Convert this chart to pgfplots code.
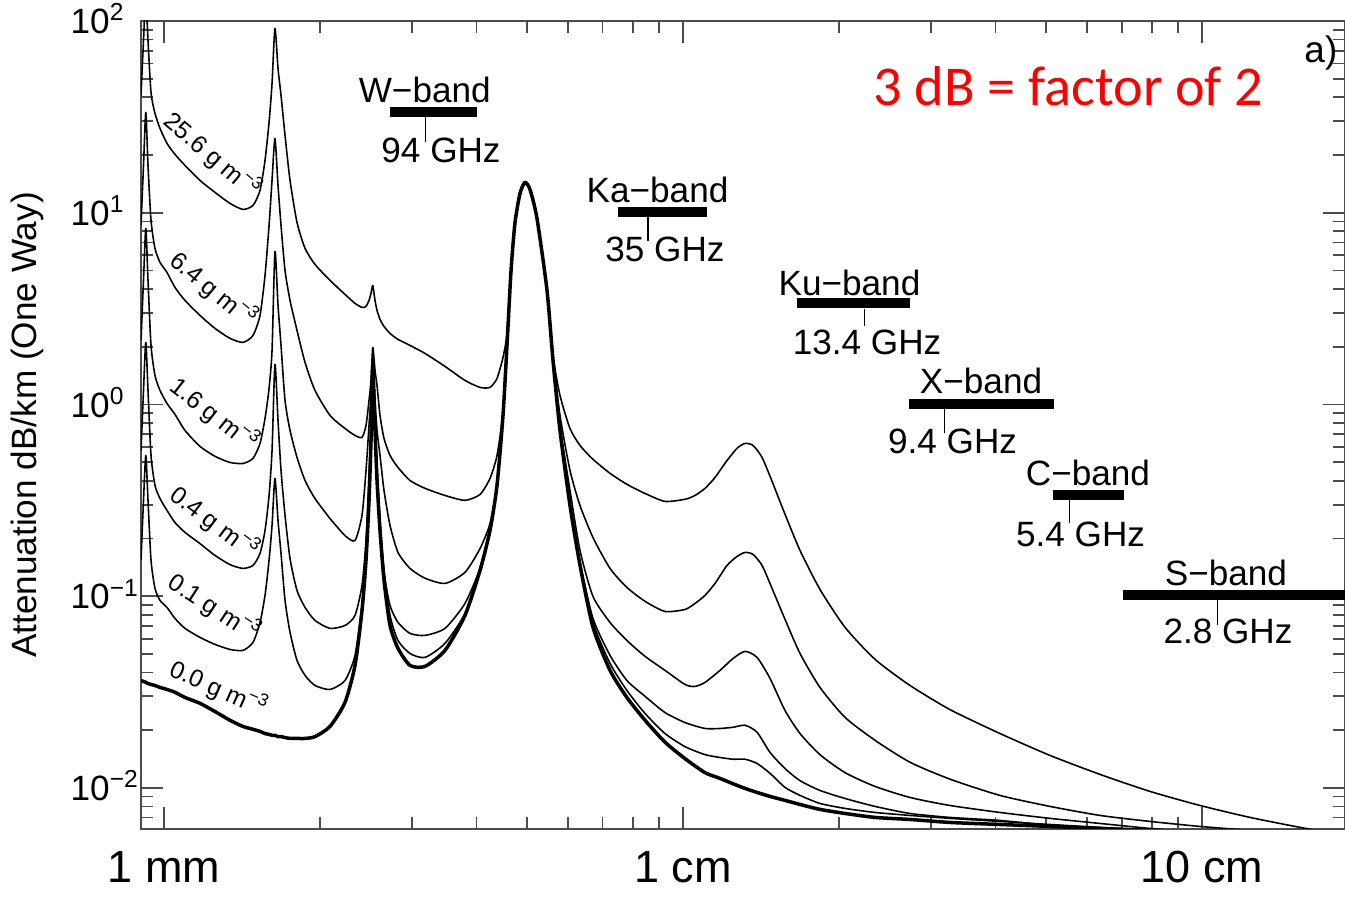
\documentclass[border=0pt]{standalone}
\usepackage{fontspec}
\setmainfont{Liberation Sans}
\newfontfamily\notefont{Carlito}
\usepackage{pgfplots}
\usepackage{pgfplotstable}
\pgfplotsset{compat=1.18}

% wavelength (mm) vs one-way attenuation (dB/km)
\pgfplotstableread{
lam att
0.903 0.0363
0.9131 0.0359
0.9224 0.0355
0.9315 0.0350
0.944 0.0346
0.9608 0.0342
0.9824 0.0334
1.0134 0.0326
1.050 0.0315
1.0975 0.0296
1.1731 0.0276
1.2539 0.0250
1.3403 0.0225
1.4199 0.0209
1.4843 0.0202
1.5311 0.0197
1.5655 0.0192
1.5937 0.0190
1.615 0.0188
1.636 0.0188
1.6585 0.0185
1.6807 0.0185
1.7108 0.0183
1.7492 0.0181
1.8043 0.0181
1.8698 0.0181
1.954 0.0185
2.0887 0.0209
2.2322 0.0279
2.3335 0.0435
2.4072 0.0842
2.4503 0.154
2.4832 0.316
2.5053 0.649
2.5246 1.578
2.5502 0.732
2.5729 0.401
2.6074 0.220
2.6541 0.121
2.7256 0.0703
2.824 0.0534
2.9785 0.0435
3.1834 0.0430
3.4787 0.0521
3.8015 0.0793
4.0628 0.136
4.2472 0.220
4.3813 0.378
4.4995 0.876
4.58 2.03
4.663 5.00
4.746 8.90
4.852 12.6
4.961 14.4
5.072 13.2
5.232 9.34
5.47 3.93
5.617 1.70
5.794 0.732
6.057 0.297
6.332 0.145
6.708 0.0687
7.234 0.0410
7.798 0.0296
8.452 0.0225
9.232 0.0173
10.089 0.0142
11.026 0.0120
11.785 0.0112
12.486 0.0105
13.168 0.00993
13.888 0.00946
14.713 0.00902
15.725 0.00860
16.807 0.00819
18.361 0.00772
20.522 0.00735
23.44 0.00701
27.373 0.00684
32.69 0.00660
40.808 0.00644
50.945 0.00629
63.595 0.00614
79.398 0.00600
99.12 0.00585
123.73 0.00571
154.5 0.00565
188.6 0.00558
}\wvzero

\pgfplotstableread{
lam att
0.903 0.154
0.9131 0.316
0.9224 0.542
0.9315 0.316
0.944 0.154
0.9608 0.1097
0.9824 0.0950
1.0134 0.0873
1.050 0.0765
1.0975 0.0679
1.1731 0.0609
1.2539 0.0560
1.3403 0.0527
1.4199 0.0521
1.4843 0.0574
1.5311 0.0729
1.5655 0.1009
1.5937 0.154
1.615 0.234
1.636 0.411
1.6585 0.248
1.6807 0.167
1.7108 0.0950
1.7492 0.0647
1.8043 0.0462
1.8698 0.0386
1.954 0.0342
2.0887 0.0326
2.2322 0.0363
2.3335 0.0491
2.4072 0.0894
2.4503 0.163
2.4832 0.356
2.5053 0.732
2.5246 1.617
2.5502 0.825
2.5729 0.481
2.6074 0.248
2.6541 0.136
2.7256 0.0793
2.824 0.0587
2.9785 0.0502
3.1834 0.0479
3.4787 0.0567
3.8015 0.0812
4.0628 0.1395
4.2472 0.2255
4.3813 0.387
4.4995 0.898
4.58 2.08
4.663 5.12
4.746 9.01
4.852 12.76
4.961 14.4
5.072 13.2
5.232 9.34
5.47 3.93
5.617 1.70
5.794 0.732
6.057 0.301
6.332 0.148
6.708 0.0729
7.234 0.0446
7.798 0.0322
8.452 0.0244
9.232 0.0192
10.089 0.0164
11.026 0.0149
11.785 0.0144
12.486 0.0141
13.168 0.0141
13.888 0.0134
14.713 0.0119
15.725 0.01005
16.807 0.00913
18.361 0.00829
20.522 0.00781
23.44 0.00744
27.373 0.00718
32.69 0.00693
40.808 0.00668
50.945 0.00644
63.595 0.00622
79.398 0.00600
99.12 0.00585
123.73 0.00571
}\wvA

\pgfplotstableread{
lam att
0.903 0.575
0.9131 1.183
0.9224 2.106
0.9315 1.183
0.944 0.542
0.9608 0.378
0.9824 0.323
1.0134 0.280
1.050 0.242
1.0975 0.215
1.1731 0.188
1.2539 0.163
1.3403 0.146
1.4199 0.1395
1.4843 0.1446
1.5311 0.167
1.5655 0.220
1.5937 0.335
1.615 0.575
1.636 1.617
1.6585 0.825
1.6807 0.4525
1.7108 0.264
1.7492 0.157
1.8043 0.107
1.8698 0.0873
1.954 0.0747
2.0887 0.0679
2.2322 0.0703
2.3335 0.0793
2.4072 0.1137
2.4503 0.195
2.4832 0.426
2.5053 0.777
2.5246 1.656
2.5502 0.825
2.5729 0.4525
2.6074 0.234
2.6541 0.133
2.7256 0.0894
2.824 0.0729
2.9785 0.0639
3.1834 0.0624
3.4787 0.0679
3.8015 0.0916
4.0628 0.1395
4.2472 0.223
4.3813 0.383
4.4995 0.887
4.58 2.056
4.663 5.061
4.746 9.01
4.852 12.76
4.961 14.4
5.072 13.2
5.232 9.34
5.47 3.93
5.617 1.70
5.794 0.732
6.057 0.304
6.332 0.150
6.708 0.0765
7.234 0.0491
7.798 0.0363
8.452 0.0300
9.232 0.0247
10.089 0.0219
11.026 0.0204
11.785 0.0204
12.486 0.0207
13.168 0.0212
13.888 0.0195
14.713 0.0153
15.725 0.0126
16.807 0.0109
18.361 0.00969
20.522 0.00880
23.44 0.00800
27.373 0.00735
32.69 0.00701
40.808 0.00676
50.945 0.00637
63.595 0.00607
79.398 0.00578
}\wvB

\pgfplotstableread{
lam att
0.903 2.157
0.9131 4.435
0.9224 8.28
0.9315 4.435
0.944 2.031
0.9608 1.416
0.9824 1.183
1.0134 1.012
1.050 0.887
1.0975 0.732
1.1731 0.604
1.2539 0.536
1.3403 0.498
1.4199 0.492
1.4843 0.523
1.5311 0.626
1.5655 0.845
1.5937 1.212
1.615 1.913
1.636 6.284
1.6585 3.285
1.6807 2.031
1.7108 1.049
1.7492 0.732
1.8043 0.529
1.8698 0.401
1.954 0.323
2.0887 0.254
2.2322 0.207
2.3335 0.195
2.4072 0.264
2.4503 0.4525
2.4832 0.777
2.5053 1.114
2.5246 1.738
2.5502 1.049
2.5729 0.732
2.6074 0.542
2.6541 0.356
2.7256 0.234
2.824 0.169
2.9785 0.1395
3.1834 0.124
3.4787 0.1165
3.8015 0.133
4.0628 0.177
4.2472 0.239
4.3813 0.378
4.4995 0.887
4.58 2.056
4.663 5.061
4.746 9.01
4.852 12.76
4.961 14.4
5.072 13.2
5.232 9.34
5.47 3.93
5.617 1.738
5.794 0.777
6.057 0.356
6.332 0.173
6.708 0.0996
7.234 0.0729
7.798 0.0587
8.452 0.0485
9.232 0.0410
10.089 0.0346
10.547 0.0338
11.026 0.0355
11.785 0.0410
12.486 0.0473
13.168 0.0515
13.888 0.0479
14.713 0.0372
15.725 0.0253
16.807 0.0192
18.361 0.0149
20.522 0.0120
23.44 0.01017
27.373 0.00891
32.69 0.00809
40.808 0.00744
50.945 0.00693
63.595 0.00652
79.398 0.00614
99.12 0.00585
}\wvC

\pgfplotstableread{
lam att
0.903 8.585
0.9131 17.65
0.9224 33.37
0.9315 17.65
0.944 9.118
0.9608 6.513
0.9824 5.505
1.0134 4.881
1.050 4.076
1.0975 3.487
1.1731 2.912
1.2539 2.492
1.3403 2.210
1.4199 2.106
1.4843 2.291
1.5311 2.912
1.5655 4.709
1.5937 8.585
1.615 14.74
1.636 24.41
1.6585 13.88
1.6807 8.585
1.7108 5.00
1.7492 3.487
1.8043 2.432
1.8698 1.656
1.954 1.183
2.0887 0.876
2.2322 0.749
2.3335 0.689
2.4072 0.673
2.4503 0.777
2.4832 1.049
2.5053 1.334
2.5246 1.983
2.5502 1.504
2.5729 1.256
2.6074 0.876
2.6541 0.665
2.7256 0.542
2.824 0.469
2.9785 0.401
3.1834 0.365
3.4787 0.335
3.8015 0.316
4.0628 0.339
4.2472 0.411
4.3813 0.542
4.4995 0.908
4.58 2.031
4.663 5.061
4.746 9.01
4.852 12.76
4.961 14.4
5.072 13.2
5.232 9.34
5.47 3.93
5.617 1.780
5.794 0.876
6.057 0.4525
6.332 0.297
6.708 0.202
7.234 0.1395
7.798 0.111
8.452 0.0939
9.232 0.0832
10.089 0.0852
10.547 0.0916
11.026 0.1009
11.526 0.1165
12.157 0.1446
12.706 0.161
13.168 0.169
13.643 0.165
14.200 0.1446
14.844 0.1097
15.725 0.0756
16.807 0.0502
18.361 0.0334
20.522 0.0233
23.44 0.0177
27.373 0.0136
32.69 0.0111
40.808 0.00913
50.945 0.00800
63.595 0.00718
79.398 0.00668
99.12 0.00629
123.73 0.00600
}\wvD

\pgfplotstableread{
lam att
0.903 40.93
0.9131 79.2
0.9224 136
0.9315 79.2
0.944 42.42
0.9608 32.96
0.9824 27.53
1.0134 22.99
1.050 20.15
1.0975 17.65
1.1731 14.74
1.2539 12.76
1.3403 11.18
1.4199 10.40
1.4843 10.92
1.5311 13.07
1.5655 18.74
1.5937 29.58
1.615 47.27
1.636 91.5
1.6585 56.56
1.6807 40.93
1.7108 25.31
1.7492 14.74
1.8043 8.90
1.8698 6.513
1.954 5.375
2.0887 4.435
2.2322 3.748
2.3335 3.365
2.4072 3.206
2.4503 3.245
2.4832 3.487
2.5053 3.793
2.5246 4.176
2.5502 3.487
2.5729 3.093
2.6074 2.776
2.6541 2.552
2.7256 2.346
2.824 2.183
2.9785 2.031
3.1834 1.845
3.4787 1.578
3.8015 1.334
4.0628 1.227
4.2472 1.227
4.3813 1.366
4.4995 1.759
4.58 2.346
4.663 5.061
4.746 9.01
4.852 12.76
4.961 14.4
5.072 13.2
5.232 9.34
5.47 4.028
5.617 1.801
5.794 1.114
6.057 0.749
6.332 0.611
6.708 0.517
7.234 0.437
7.798 0.383
8.452 0.343
9.232 0.312
10.089 0.320
10.547 0.335
11.026 0.365
11.526 0.416
12.157 0.510
12.706 0.590
13.168 0.626
13.643 0.611
14.200 0.529
14.844 0.397
15.725 0.267
16.807 0.173
18.361 0.1084
20.522 0.0687
23.44 0.0468
27.373 0.0342
32.69 0.0256
40.808 0.0192
50.945 0.01476
63.595 0.01175
79.398 0.00958
99.12 0.00809
123.73 0.00701
154.5 0.00622
188.6 0.00565
}\wvE

\begin{document}
\begin{tikzpicture}
\begin{axis}[
  name=ax, at={(0,0)}, anchor=south west,
  scale only axis, width=12.04cm, height=8.08cm,
  xmode=log, ymode=log,
  xmin=0.903, xmax=188.6, ymin=0.0061, ymax=100,
  axis line style={black!70, line width=0.6pt},
  every tick/.style={black!70, line width=0.5pt},
  tick align=inside,
  major tick length=0.22cm, minor tick length=0.12cm,
  xtick={1,10,100}, xticklabels={1 mm,1 cm,10 cm},
  minor xtick={2,3,4,5,6,7,8,9,20,30,40,50,60,70,80,90},
  ytick={0.01,0.1,1,10,100},
  yticklabels={10\textsuperscript{−2},10\textsuperscript{−1},10\textsuperscript{0},10\textsuperscript{1},10\textsuperscript{2}},
  minor ytick={0.007,0.008,0.009,0.02,0.03,0.04,0.05,0.06,0.07,0.08,0.09,0.2,0.3,0.4,0.5,0.6,0.7,0.8,0.9,2,3,4,5,6,7,8,9,20,30,40,50,60,70,80,90},
  xticklabel style={font=\fontsize{12.8}{14}\selectfont, anchor=base, yshift=-0.54cm},
  yticklabel style={font=\fontsize{10}{12}\selectfont, anchor=base west, inner sep=0pt, xshift=-0.71cm, yshift=-3.6pt},
  ylabel={Attenuation dB/km (One Way)},
  ylabel style={font=\fontsize{10}{12}\selectfont, at={(axis description cs:-0.0947,0.5)}, anchor=center},
  clip mode=individual,
  every axis plot/.append style={black, line join=round, smooth, tension=0.4},
]
\addplot[line width=0.45pt] table[x=lam, y=att] {\wvE};
\addplot[line width=0.45pt] table[x=lam, y=att] {\wvD};
\addplot[line width=0.45pt] table[x=lam, y=att] {\wvC};
\addplot[line width=0.45pt] table[x=lam, y=att] {\wvB};
\addplot[line width=0.45pt] table[x=lam, y=att] {\wvA};
\addplot[line width=1.0pt] table[x=lam, y=att] {\wvzero};

% water vapour density labels
\begin{scope}[every node/.style={font=\fontsize{7}{8}\selectfont, inner sep=0pt, xshift=0.05cm, yshift=0.05cm}]
\node[rotate=-40.5] at (axis cs:1.2155,18.74) {25.6 g m\textsuperscript{−3}};
\node[rotate=-39.5] at (axis cs:1.2213,3.748) {6.4 g m\textsuperscript{−3}};
\node[rotate=-38] at (axis cs:1.226,0.835) {1.6 g m\textsuperscript{−3}};
\node[rotate=-37] at (axis cs:1.226,0.2283) {0.4 g m\textsuperscript{−3}};
\node[rotate=-33] at (axis cs:1.226,0.0822) {0.1 g m\textsuperscript{−3}};
\node[rotate=-24] at (axis cs:1.2484,0.0311) {0.0 g m\textsuperscript{−3}};
\end{scope}

% radar bands
\begin{scope}[every node/.style={font=\fontsize{10}{12}\selectfont, inner sep=0pt, anchor=base}]
\draw[line width=0.1cm] (axis cs:2.725,33.4) -- (axis cs:4.01,33.4);
\draw[line width=0.4pt] (axis cs:3.19,31.4) -- (axis cs:3.19,23.3);
\node at (axis cs:3.18,37.6) {W−band};
\node at (axis cs:3.418,18.3) {94 GHz};

\draw[line width=0.1cm] (axis cs:7.497,10.04) -- (axis cs:11.12,10.04);
\draw[line width=0.4pt] (axis cs:8.565,9.45) -- (axis cs:8.565,7.09);
\node at (axis cs:8.93,11.32) {Ka−band};
\node at (axis cs:9.23,5.57) {35 GHz};

\draw[line width=0.1cm] (axis cs:16.59,3.365) -- (axis cs:27.38,3.365);
\draw[line width=0.4pt] (axis cs:22.37,3.13) -- (axis cs:22.37,2.552);
\node at (axis cs:20.93,3.704) {Ku−band};
\node at (axis cs:22.62,1.823) {13.4 GHz};

\draw[line width=0.1cm] (axis cs:27.26,1.006) -- (axis cs:51.86,1.006);
\draw[line width=0.4pt] (axis cs:31.89,0.942) -- (axis cs:31.89,0.706);
\node at (axis cs:37.52,1.141) {X−band};
\node at (axis cs:33.06,0.555) {9.4 GHz};

\draw[line width=0.1cm] (axis cs:51.63,0.335) -- (axis cs:70.74,0.335);
\draw[line width=0.4pt] (axis cs:55.5,0.3156) -- (axis cs:55.5,0.2394);
\node at (axis cs:60.3,0.378) {C−band};
\node at (axis cs:58.33,0.1816) {5.4 GHz};

\draw[line width=0.1cm] (axis cs:70.43,0.1009) -- (axis cs:188.6,0.1009);
\draw[line width=0.4pt] (axis cs:107.1,0.095) -- (axis cs:107.1,0.0704);
\node at (axis cs:111.2,0.1137) {S−band};
\node at (axis cs:112.2,0.0567) {2.8 GHz};
\end{scope}

\node[anchor=base, inner sep=0pt, text=red, font=\notefont\fontsize{16}{18}\selectfont] at (axis cs:55.3,36.3) {3 dB = factor of 2};
\node[anchor=base east, inner sep=0pt, font=\fontsize{10.5}{12}\selectfont] at (axis cs:182.8,60.8) {a)};
\end{axis}
\pgfresetboundingbox
\path[use as bounding box] (-1.41cm,-0.75cm) rectangle (12.04cm,8.29cm);
\end{tikzpicture}
\end{document}
